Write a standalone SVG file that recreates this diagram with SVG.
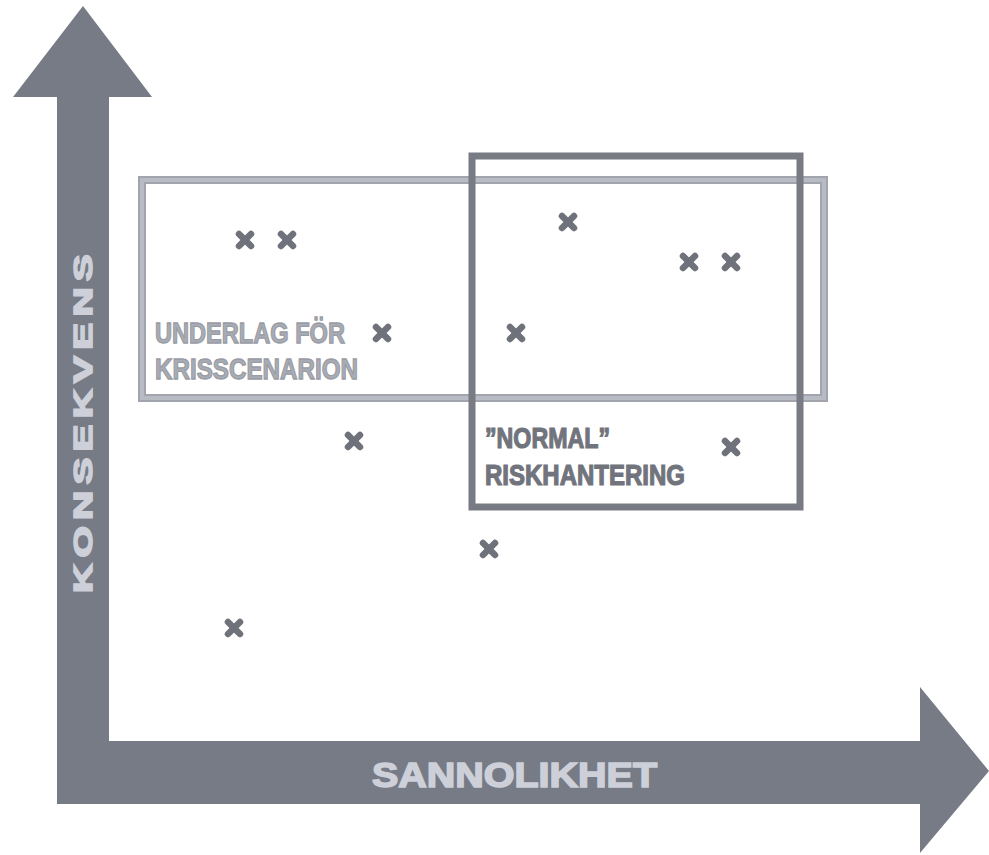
<svg xmlns="http://www.w3.org/2000/svg" width="989" height="855" viewBox="0 0 989 855">
<style>
.ax{fill:#777b86}
.axt{fill:#cdd0d9;stroke:#cdd0d9;stroke-width:1.6;font-family:"Liberation Sans",Arial,sans-serif;font-weight:bold}
.lbl{font-family:"Liberation Sans",Arial,sans-serif;font-weight:bold;font-size:29px}
.light{fill:#a9acb4;stroke:#999ca4;stroke-width:1.3}
.dark{fill:#71747c;stroke:#71747c;stroke-width:1.2}
.boxL{fill:none;stroke:#a2a5ad;stroke-width:8}
.boxLi{fill:none;stroke:#b8bbc3;stroke-width:4}
.boxD{fill:none;stroke:#787b83;stroke-width:7}
.x{stroke:#6f727a;stroke-width:6.5;stroke-linecap:round}
</style>
<defs>
<g id="cross"><line class="x" x1="-6" y1="-6" x2="6" y2="6"/><line class="x" x1="-6" y1="6" x2="6" y2="-6"/></g>
</defs>
<rect width="989" height="855" fill="#ffffff"/>
<g id="axes">
<path class="ax" d="M83,6 L152,97 L109,97 L109,741 L920,741 L920,687 L989,771 L920,853 L920,804 L57,804 L57,97 L13,97 Z"/>
<text class="axt" x="372" y="787" font-size="35" textLength="285" lengthAdjust="spacingAndGlyphs">SANNOLIKHET</text>
<text class="axt" transform="translate(92,593) rotate(-90)" x="0" y="0" font-size="26" letter-spacing="4" textLength="345" lengthAdjust="spacingAndGlyphs">KONSEKVENS</text>
</g>
<g id="krisscenarion">
<rect class="boxL" x="142" y="180" width="682" height="218"/>
<rect class="boxLi" x="142" y="180" width="682" height="218"/>
<text class="lbl light" x="155" y="343" textLength="190" lengthAdjust="spacingAndGlyphs">UNDERLAG FÖR</text>
<text class="lbl light" x="155" y="379" textLength="203" lengthAdjust="spacingAndGlyphs">KRISSCENARION</text>
</g>
<g id="riskhantering">
<rect class="boxD" x="472" y="156" width="328" height="351"/>
<text class="lbl dark" x="485" y="448" font-size="28" textLength="125" lengthAdjust="spacingAndGlyphs">”NORMAL”</text>
<text class="lbl dark" x="485" y="485" font-size="28" textLength="200" lengthAdjust="spacingAndGlyphs">RISKHANTERING</text>
</g>
<g id="points">
<use href="#cross" x="245" y="240"/>
<use href="#cross" x="287" y="240"/>
<use href="#cross" x="382" y="333"/>
<use href="#cross" x="568" y="222"/>
<use href="#cross" x="689" y="262"/>
<use href="#cross" x="731" y="262"/>
<use href="#cross" x="516" y="333"/>
<use href="#cross" x="354" y="441"/>
<use href="#cross" x="731" y="447"/>
<use href="#cross" x="489" y="549"/>
<use href="#cross" x="234" y="628"/>
</g>
</svg>
